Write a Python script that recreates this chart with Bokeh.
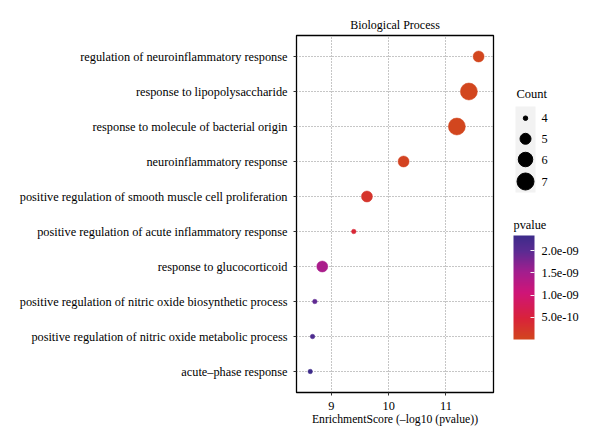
import numpy as np
from bokeh.plotting import figure
from bokeh.layouts import row
from bokeh.models import (Range1d, FixedTicker, LinearColorMapper, ColorBar,
                          CustomJSTickFormatter, ColumnDataSource)
from bokeh.transform import transform
from bokeh.embed import file_html
from bokeh.resources import INLINE

# ---------------- data ----------------
terms = [
    "regulation of neuroinflammatory response",
    "response to lipopolysaccharide",
    "response to molecule of bacterial origin",
    "neuroinflammatory response",
    "positive regulation of smooth muscle cell proliferation",
    "positive regulation of acute inflammatory response",
    "response to glucocorticoid",
    "positive regulation of nitric oxide biosynthetic process",
    "positive regulation of nitric oxide metabolic process",
    "acute\u2013phase response",
]
enrichment = [11.57, 11.40, 11.19, 10.26, 9.62, 9.39, 8.84, 8.71, 8.67, 8.63]
counts = [5, 7, 7, 5, 5, 4, 5, 4, 4, 4]
pvalues = [2.7e-12, 4.0e-12, 6.5e-12, 5.5e-11, 2.4e-10, 4.1e-10,
           1.45e-9, 1.95e-9, 2.14e-9, 2.34e-9]
x_ticks = [9, 10, 11]
legend_counts = [4, 5, 6, 7]
pvalue_ticks = [5e-10, 1e-9, 1.5e-9, 2e-9]

# ---------------- styles ----------------
FONT = "Liberation Serif"
diam = {4: 4.5, 5: 11, 6: 14.5, 7: 17}

stops = [(0.0, "#D2461E"), (0.2, "#D9233A"), (0.45, "#CF1578"),
         (0.65, "#A31E8E"), (0.85, "#5B2B92"), (1.0, "#3D2B8A")]

def hex2rgb(h):
    return np.array([int(h[i:i + 2], 16) for i in (1, 3, 5)], float)

palette = []
for t in np.linspace(0, 1, 256):
    for (a, ca), (b, cb) in zip(stops[:-1], stops[1:]):
        if a <= t <= b:
            f = (t - a) / (b - a)
            c = hex2rgb(ca) * (1 - f) + hex2rgb(cb) * f
            palette.append("#%02x%02x%02x" % tuple(int(round(v)) for v in c))
            break

mapper = LinearColorMapper(palette=palette, low=min(pvalues), high=max(pvalues))

n = len(terms)
ypos = [n - i for i in range(n)]
src = ColumnDataSource(dict(x=enrichment, y=ypos, term=terms, count=counts,
                            pvalue=pvalues, size=[diam[c] for c in counts]))

TOP, BOTTOM = 35, 48
H = 440

# ---------------- main figure ----------------
p = figure(width=513, height=H, x_range=Range1d(8.39, 11.83),
           y_range=Range1d(0.4, n + 0.6), toolbar_location=None,
           output_backend="svg", min_border_left=296, min_border_right=20,
           min_border_top=TOP, min_border_bottom=BOTTOM, title="Biological Process")
p.title.align = "center"
p.title.text_font = FONT
p.title.text_font_size = "12px"
p.title.text_font_style = "normal"
p.title.text_color = "black"
p.title.standoff = 8

p.scatter("x", "y", size="size", source=src,
          fill_color=transform("pvalue", mapper),
          line_color=transform("pvalue", mapper), line_width=0.5)

p.outline_line_color = "black"
p.outline_line_width = 1.3
p.background_fill_color = "white"

p.xaxis.ticker = FixedTicker(ticks=x_ticks)
p.yaxis.ticker = FixedTicker(ticks=ypos)
p.yaxis.major_label_overrides = {y: t for y, t in zip(ypos, terms)}
p.xaxis.axis_label = "EnrichmentScore (\u2013log10 (pvalue))"

for ax in (p.xaxis, p.yaxis):
    ax.axis_line_color = "black"
    ax.major_tick_line_color = "#333333"
    ax.major_tick_out = 3
    ax.major_tick_in = 0
    ax.minor_tick_line_color = None
    ax.major_label_text_font = FONT
    ax.major_label_text_font_size = "12.3px"
    ax.major_label_text_color = "black"
    ax.axis_label_text_font = FONT
    ax.axis_label_text_font_size = "11.7px"
    ax.axis_label_text_font_style = "normal"
    ax.axis_label_text_color = "black"
p.yaxis.major_label_standoff = 6
p.xaxis.major_label_standoff = 6
p.xaxis.axis_label_standoff = 0

for g in (p.xgrid, p.ygrid):
    g.grid_line_color = "#8c8c8c"
    g.grid_line_dash = "1 2"
    g.grid_line_width = 1
p.xgrid.ticker = FixedTicker(ticks=x_ticks)
p.ygrid.ticker = FixedTicker(ticks=ypos)

# ---------------- legend panel (page-pixel coordinates) ----------------
s = figure(width=79, height=H, x_range=Range1d(513, 592),
           y_range=Range1d(H - BOTTOM, TOP), toolbar_location=None,
           output_backend="svg", min_border_left=0, min_border_right=0,
           min_border_top=TOP, min_border_bottom=BOTTOM,
           x_axis_location=None, y_axis_location=None)
s.grid.visible = False
s.outline_line_color = None

s.text(x=[516], y=[93], text=["Count"], text_font=FONT, text_font_size="12.5px",
       text_baseline="middle", text_color="black")
s.quad(left=[515], right=[535], top=[106], bottom=[192], fill_color="#F2F2F2",
       line_color=None)
leg_y = [117.7, 138.3, 159, 181]
s.scatter(x=[525] * len(legend_counts), y=leg_y,
          size=[diam[c] for c in legend_counts], color="black")
s.text(x=[541] * len(legend_counts), y=leg_y, text=[str(c) for c in legend_counts],
       text_font=FONT, text_font_size="12.3px", text_baseline="middle",
       text_color="black")

s.text(x=[513], y=[224], text=["pvalue"], text_font=FONT, text_font_size="12.3px",
       text_baseline="middle", text_color="black")

fmt = CustomJSTickFormatter(code="""
const s = tick.toExponential(1);
return s.replace(/e([+-])(\\d)$/, 'e$10$2');
""")
cb = ColorBar(color_mapper=mapper, location=(0, (H - BOTTOM) - 339), width=21,
              height=104, padding=0, margin=0,
              ticker=FixedTicker(ticks=pvalue_ticks), formatter=fmt,
              background_fill_color=None, border_line_color=None,
              bar_line_color=None, major_tick_line_color="#f4f4f4",
              major_tick_in=4, major_tick_out=0, minor_tick_line_color=None,
              label_standoff=7, major_label_text_font=FONT,
              major_label_text_font_size="12.3px",
              major_label_text_color="black")
s.add_layout(cb, "center")

layout = row(p, s)
open("out.html", "w").write(file_html(layout, INLINE))
